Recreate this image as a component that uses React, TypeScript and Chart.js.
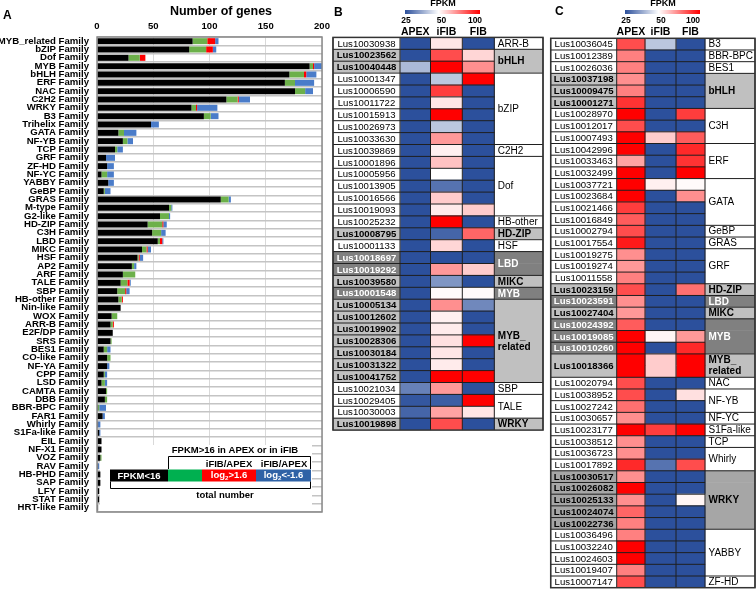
import React, { useEffect, useRef } from 'react';
import { Chart, registerables } from 'chart.js';
Chart.register(...registerables);

const FONT = '"Liberation Sans", Arial, Helvetica, sans-serif';

// ---------------- Panel A data ----------------
const FAMILIES = ['MYB_related','bZIP','Dof','MYB','bHLH','ERF','NAC','C2H2','WRKY','B3','Trihelix','GATA','NF-YB','TCP','GRF','ZF-HD','NF-YC','YABBY','GeBP','GRAS','M-type','G2-like','HD-ZIP','C3H','LBD','MIKC','HSF','AP2','ARF','TALE','SBP','HB-other','Nin-like','WOX','ARR-B','E2F/DP','SRS','BES1','CO-like','NF-YA','CPP','LSD','CAMTA','DBB','BBR-BPC','FAR1','Whirly','S1Fa-like','EIL','NF-X1','VOZ','RAV','HB-PHD','SAP','LFY','STAT','HRT-like'];
const LOW  = [85,82,28,189,171,167,176,115,84,95,48,19,23,16,8,9,4,10,6,110,64,56,45,49,54,40,36,31,23,21,18,19,21,13,12,14,12,6,9,9,6,4,8,7,1,5,1,2,4,4,3,1,3,3,2,2,1];
const MID  = [13,15,10,3,13,9,9,10,4,6,0,5,4,2,0,0,5,0,1,7,2,8,13,8,2,4,1,2,11,6,7,3,0,5,2,0,1,3,3,0,1,3,1,2,1,0,0,0,0,0,1,0,0,0,0,0,0];
const UP   = [7,6,5,1,2,0,0,1,1,0,0,0,0,0,0,0,0,0,0,0,0,0,1,0,2,1,1,0,0,2,1,1,0,0,1,0,0,0,0,0,0,0,0,0,0,0,0,0,0,0,0,0,0,0,0,0,0];
const DOWN = [3,3,0,7,9,17,7,10,18,7,7,11,5,5,8,6,6,5,5,2,1,1,3,4,1,3,3,2,0,1,3,0,0,0,0,0,0,3,0,2,2,2,0,0,6,2,2,1,0,0,0,1,0,0,0,0,0];
const X_MAX = 200;
const X_STEP = 50;

// ---------------- Panel B data ----------------
const B_GENES = ['Lus10030938','Lus10023562','Lus10040448','Lus10001347','Lus10006590','Lus10011722','Lus10015913','Lus10026973','Lus10033630','Lus10039869','Lus10001896','Lus10005956','Lus10013905','Lus10016566','Lus10019093','Lus10025232','Lus10008795','Lus10001133','Lus10018697','Lus10019292','Lus10039580','Lus10001548','Lus10005134','Lus10012602','Lus10019902','Lus10028306','Lus10030184','Lus10031322','Lus10041752','Lus10021034','Lus10029405','Lus10030003','Lus10019898'];
const B_STYLE = ['w','l','l','w','w','w','w','w','w','w','w','w','w','w','w','w','l','w','d','d','l','d','l','l','l','l','l','l','l','w','w','w','l'];
const B_APEX = [25,25,40,25,25,25,25,25,25,25,25,25,25,25,25,25,25,25,25,25,25,25,25,25,25,25,25,25,25,32,26,28,25];
const B_IFIB = [55,85,100,42,88,55,100,42,70,53,62,50,30,60,54,100,28,58,25,70,35,51,72,53,54,56,55,54,100,70,27,68,85];
const B_FIB  = [25,58,72,100,25,25,25,25,25,25,25,25,25,25,60,25,80,25,25,60,25,51,33,25,25,100,25,25,100,25,100,55,25];
const B_FAMILIES = ['ARR-B','bHLH','bZIP','C2H2','Dof','HB-other','HD-ZIP','HSF','LBD','MIKC','MYB','MYB_\nrelated','SBP','TALE','WRKY'];
const B_FAMILY_SIZE = [1,2,6,1,5,1,1,1,2,1,1,7,1,2,1];
const B_FAMILY_STYLE = ['w','l','w','w','w','w','l','w','d','l','d','l','w','w','l'];

// ---------------- Panel C data ----------------
const C_GENES = ['Lus10036045','Lus10012389','Lus10026036','Lus10037198','Lus10009475','Lus10001271','Lus10028970','Lus10012017','Lus10007493','Lus10042996','Lus10033463','Lus10032499','Lus10037721','Lus10023684','Lus10021466','Lus10016849','Lus10002794','Lus10017554','Lus10019275','Lus10019274','Lus10011558','Lus10023159','Lus10023591','Lus10027404','Lus10024392','Lus10019085','Lus10010260','Lus10018366','Lus10020794','Lus10038952','Lus10027242','Lus10030657','Lus10023177','Lus10038512','Lus10036723','Lus10017892','Lus10030517','Lus10026082','Lus10025133','Lus10024074','Lus10022736','Lus10036496','Lus10032240','Lus10024603','Lus10019407','Lus10007147'];
const C_STYLE = ['w','w','w','l','l','l','w','w','w','w','w','w','w','w','w','w','w','w','w','w','w','l','d','l','d','d','d','l','w','w','w','w','w','w','w','w','m','m','m','m','m','w','w','w','w','w'];
const C_APEX = [85,75,75,72,75,90,100,85,100,100,68,100,100,100,88,82,85,95,72,70,75,85,72,70,82,100,100,100,85,85,78,72,100,72,72,92,72,100,72,80,75,75,100,100,75,85];
const C_IFIB = [42,25,25,25,25,25,25,25,60,25,25,25,53,25,25,25,25,25,25,25,25,25,25,25,25,52,25,60,25,25,25,25,88,25,25,30,25,25,25,25,25,25,25,25,25,25];
const C_FIB  = [25,25,25,25,25,25,88,25,82,92,90,100,51,72,25,25,25,25,25,25,25,78,25,25,25,70,92,100,25,56,25,25,100,25,25,85,25,25,52,25,25,25,25,25,25,25];
const C_DOUBLE = ['Lus10018366'];
const C_FAMILIES = ['B3','BBR-BPC','BES1','bHLH','C3H','ERF','GATA','GeBP','GRAS','GRF','HD-ZIP','LBD','MIKC','MYB','MYB_\nrelated','NAC','NF-YB','NF-YC','S1Fa-like','TCP','Whirly','WRKY','YABBY','ZF-HD'];
const C_FAMILY_SIZE = [1,1,1,3,3,3,4,1,1,3,1,1,1,3,1,1,2,1,1,1,2,5,4,1];
const C_FAMILY_STYLE = ['w','w','w','l','w','w','w','w','w','w','l','d','l','d','l','w','w','w','w','w','w','m','w','w'];

const SCALE_LABELS = ['25', '50', '100'];
const SCALE_VALUES = [25, 50, 100];
const COLUMNS = ['APEX', 'iFIB', 'FIB'];

// ---------------- helpers ----------------
const BLUE = [44, 80, 156];
const WHITE = [255, 255, 255];
const RED = [255, 0, 0];
const mix = (a: number[], b: number[], t: number) => `rgb(${a.map((v, i) => Math.round(v + (b[i] - v) * t)).join(',')})`;
function heat(v: number) {
  if (v <= SCALE_VALUES[0]) return mix(BLUE, BLUE, 0);
  if (v <= SCALE_VALUES[1]) return mix(BLUE, WHITE, (v - SCALE_VALUES[0]) / (SCALE_VALUES[1] - SCALE_VALUES[0]));
  if (v < SCALE_VALUES[2]) return mix(WHITE, RED, (v - SCALE_VALUES[1]) / (SCALE_VALUES[2] - SCALE_VALUES[1]));
  return mix(RED, RED, 0);
}
const CELL_BG: Record<string, string> = { w: '#ffffff', l: '#c0c0c0', m: '#a6a6a6', d: '#808080' };
const CELL_FG: Record<string, string> = { w: '#000000', l: '#000000', m: '#000000', d: '#ffffff' };

function drawLog(ctx: CanvasRenderingContext2D, cx: number, cy: number, suffix: string, size: number) {
  const big = `bold ${size}px ${FONT}`;
  const small = `bold ${size * 0.65}px ${FONT}`;
  ctx.font = big; const w1 = ctx.measureText('log').width; const w3 = ctx.measureText(suffix).width;
  ctx.font = small; const w2 = ctx.measureText('2').width;
  let x = cx - (w1 + w2 + w3) / 2;
  ctx.textAlign = 'left';
  ctx.font = big; ctx.fillText('log', x, cy); x += w1;
  ctx.font = small; ctx.fillText('2', x, cy + 3); x += w2;
  ctx.font = big; ctx.fillText(suffix, x, cy);
}

// ---------------- Panel A ----------------
function PanelA() {
  const ref = useRef<HTMLCanvasElement>(null);
  useEffect(() => {
    const decor = {
      id: 'aDecor',
      beforeDatasetsDraw(chart: any) {
        const ctx = chart.ctx;
        ctx.save(); ctx.fillStyle = '#ffffff'; ctx.fillRect(100, 445, 212, 66); ctx.restore();
      },
      afterDraw(chart: any) {
        const ctx: CanvasRenderingContext2D = chart.ctx; const ca = chart.chartArea;
        ctx.save();
        ctx.strokeStyle = '#8a8a8a'; ctx.lineWidth = 1.5;
        ctx.strokeRect(ca.left, ca.top, ca.right - ca.left, ca.bottom - ca.top);
        ctx.fillStyle = '#000'; ctx.textBaseline = 'alphabetic'; ctx.textAlign = 'left';
        ctx.font = `bold 12px ${FONT}`; ctx.fillText('A', 3, 19);
        ctx.font = `bold 12.5px ${FONT}`;
        ctx.textAlign = 'center'; ctx.fillText('Number of genes', 221, 15);
        // legend
        ctx.textBaseline = 'middle'; ctx.font = `bold 9.5px ${FONT}`;
        ctx.fillText('FPKM>16 in APEX or in iFIB', 235, 450);
        ctx.strokeStyle = '#000'; ctx.lineWidth = 1;
        ctx.beginPath(); ctx.moveTo(168.5, 469); ctx.lineTo(168.5, 456.5); ctx.lineTo(310.5, 456.5); ctx.lineTo(310.5, 469); ctx.stroke();
        ctx.fillText('iFIB/APEX', 229, 464); ctx.fillText('iFIB/APEX', 284, 464);
        const boxes: [number, number, string][] = [[110, 168, '#000000'], [168, 202, '#00b050'], [202, 256, '#ff0000'], [256, 311, '#2f62a6']];
        boxes.forEach(([a, b, c]) => { ctx.fillStyle = c; ctx.fillRect(a, 469.5, b - a, 12); });
        ctx.fillStyle = '#fff';
        ctx.fillText('FPKM<16', 139, 476);
        drawLog(ctx, 229, 475.5, '>1.6', 9.5);
        drawLog(ctx, 283.5, 475.5, '<-1.6', 9.5);
        ctx.strokeStyle = '#000';
        ctx.beginPath(); ctx.moveTo(110.5, 481.5); ctx.lineTo(110.5, 488.5); ctx.lineTo(310.5, 488.5); ctx.lineTo(310.5, 481.5); ctx.stroke();
        ctx.fillStyle = '#000'; ctx.textAlign = 'center'; ctx.font = `bold 9.5px ${FONT}`;
        ctx.fillText('total number', 225, 495);
        ctx.restore();
      },
    };
    const chart = new Chart(ref.current!, {
      type: 'bar',
      data: {
        labels: FAMILIES.map((f) => `${f} Family`),
        datasets: [
          { label: 'FPKM<16', data: LOW, backgroundColor: '#000000' },
          { label: 'iFIB/APEX', data: MID, backgroundColor: '#6cb04a' },
          { label: 'log2>1.6', data: UP, backgroundColor: '#ff0000' },
          { label: 'log2<-1.6', data: DOWN, backgroundColor: '#4a7cc9' },
        ],
      },
      options: {
        indexAxis: 'y', animation: false, responsive: false,
        layout: { padding: { top: 0, right: 8, bottom: 8, left: 0 } },
        datasets: { bar: { categoryPercentage: 0.9, barPercentage: 0.8, borderWidth: 0 } } as any,
        scales: {
          x: {
            position: 'top', stacked: true, min: 0, max: X_MAX,
            ticks: { stepSize: X_STEP, color: '#000', padding: 5, font: { family: FONT, size: 9.5, weight: 'bold' } },
            grid: { color: '#d9d9d9', lineWidth: 1, drawTicks: false },
            border: { display: false },
            afterFit: (s: any) => { s.height = 37; s.paddingLeft = 0; s.paddingRight = 0; },
          },
          y: {
            stacked: true,
            ticks: { autoSkip: false, color: '#000', padding: 8, font: { family: FONT, size: 9.6, weight: 'bold' } },
            grid: { color: '#c4c4c4', lineWidth: 1.5, drawTicks: false, offset: true },
            border: { display: false },
            afterFit: (s: any) => { s.width = 97; s.paddingTop = 0; s.paddingBottom = 0; },
          },
        },
        plugins: { legend: { display: false }, tooltip: { enabled: false } },
      } as any,
      plugins: [decor],
    });
    return () => chart.destroy();
  }, []);
  return <canvas ref={ref} width={330} height={520} style={{ position: 'absolute', left: 0, top: 0, width: 330, height: 520 }} />;
}

// ---------------- Panels B / C (heat tables) ----------------
type TableCfg = {
  left: number; width: number; height: number;
  pad: { left: number; top: number; right: number; bottom: number };
  letter: string; letterX: number; letterY: number;
  grad: [number, number]; gradLabelX: number[]; fpkmX: number;
  genes: string[]; styles: string[]; apex: number[]; ifib: number[]; fib: number[];
  families: string[]; famSizes: number[]; famStyles: string[];
  colW: number[]; doubles: string[];
};

function HeatTable({ cfg }: { cfg: TableCfg }) {
  const ref = useRef<HTMLCanvasElement>(null);
  useEffect(() => {
    const geneFam: number[] = [];
    cfg.famSizes.forEach((n, fi) => { for (let k = 0; k < n; k++) geneFam.push(fi); });
    const slotGene: number[] = [];
    cfg.genes.forEach((g, gi) => { slotGene.push(gi); if (cfg.doubles.includes(g)) slotGene.push(gi); });
    const slotFam = slotGene.map((gi) => geneFam[gi]);
    const N = slotGene.length;
    const total = cfg.colW.reduce((a, b) => a + b, 0);
    const mk = (w: number, colors: string[], label: string) => ({
      label, data: slotGene.map(() => w), backgroundColor: colors,
      borderWidth: 0, categoryPercentage: 1, barPercentage: 1,
    });
    const datasets = [
      mk(cfg.colW[0], slotGene.map((gi) => CELL_BG[cfg.styles[gi]]), 'gene'),
      mk(cfg.colW[1], slotGene.map((gi) => heat(cfg.apex[gi])), COLUMNS[0]),
      mk(cfg.colW[2], slotGene.map((gi) => heat(cfg.ifib[gi])), COLUMNS[1]),
      mk(cfg.colW[3], slotGene.map((gi) => heat(cfg.fib[gi])), COLUMNS[2]),
      mk(cfg.colW[4], slotFam.map((fi) => CELL_BG[cfg.famStyles[fi]]), 'family'),
    ];
    const off = cfg.left;
    const plug = {
      id: 'tableDecor',
      afterDatasetsDraw(chart: any) {
        const ctx: CanvasRenderingContext2D = chart.ctx; const ca = chart.chartArea; const x = chart.scales.x;
        const h = (ca.bottom - ca.top) / N;
        const bx: number[] = [x.getPixelForValue(0)];
        let acc = 0; cfg.colW.forEach((w) => { acc += w; bx.push(x.getPixelForValue(acc)); });
        ctx.save();
        ctx.strokeStyle = '#1f1f1f'; ctx.lineWidth = 1;
        ctx.beginPath();
        for (let k = 1; k < N; k++) {
          const yk = ca.top + k * h;
          if (slotGene[k] !== slotGene[k - 1]) { ctx.moveTo(bx[0], yk); ctx.lineTo(bx[4], yk); }
          if (slotFam[k] !== slotFam[k - 1]) { ctx.moveTo(bx[4], yk); ctx.lineTo(bx[5], yk); }
        }
        bx.forEach((b) => { ctx.moveTo(b, ca.top); ctx.lineTo(b, ca.bottom); });
        ctx.stroke();
        ctx.lineWidth = 1.5; ctx.strokeStyle = '#333';
        ctx.strokeRect(ca.left, ca.top, ca.right - ca.left, ca.bottom - ca.top);
        // gene names
        ctx.textBaseline = 'middle'; ctx.textAlign = 'center';
        cfg.genes.forEach((g, gi) => {
          const first = slotGene.indexOf(gi); const span = slotGene.filter((s) => s === gi).length;
          const st = cfg.styles[gi];
          ctx.fillStyle = CELL_FG[st];
          ctx.font = `${st === 'w' ? '' : 'bold '}9.6px ${FONT}`;
          ctx.fillText(g, (bx[0] + bx[1]) / 2, ca.top + (first + span / 2) * h + 0.5);
        });
        // families
        ctx.textAlign = 'left';
        cfg.families.forEach((f, fi) => {
          const first = slotFam.indexOf(fi); const span = slotFam.filter((s) => s === fi).length;
          const st = cfg.famStyles[fi];
          ctx.fillStyle = CELL_FG[st];
          ctx.font = `${st === 'w' ? '' : 'bold '}10px ${FONT}`;
          const lines = f.split('\n'); const lh = 11;
          const cy = ca.top + (first + span / 2) * h;
          lines.forEach((ln, li) => ctx.fillText(ln, bx[4] + 3.5, cy + (li - (lines.length - 1) / 2) * lh + 0.5));
        });
        ctx.restore();
      },
      afterDraw(chart: any) {
        const ctx: CanvasRenderingContext2D = chart.ctx; const x = chart.scales.x;
        ctx.save();
        ctx.fillStyle = '#000'; ctx.textBaseline = 'alphabetic'; ctx.textAlign = 'left';
        ctx.font = `bold 12px ${FONT}`; ctx.fillText(cfg.letter, cfg.letterX - off, cfg.letterY);
        // colour bar
        const g0 = cfg.grad[0] - off, g1 = cfg.grad[1] - off;
        const grd = ctx.createLinearGradient(g0, 0, g1, 0);
        grd.addColorStop(0, heat(SCALE_VALUES[0])); grd.addColorStop(0.45, heat(SCALE_VALUES[1])); grd.addColorStop(1, heat(SCALE_VALUES[2]));
        ctx.fillStyle = grd; ctx.fillRect(g0, 10, g1 - g0, 4);
        ctx.fillStyle = '#000'; ctx.textAlign = 'center'; ctx.textBaseline = 'middle';
        ctx.font = `bold 9px ${FONT}`; ctx.fillText('FPKM', cfg.fpkmX - off, 4);
        ctx.font = `bold 8.5px ${FONT}`;
        SCALE_LABELS.forEach((s, i) => ctx.fillText(s, cfg.gradLabelX[i] - off, 21));
        ctx.font = `bold 10.5px ${FONT}`;
        let acc = cfg.colW[0];
        COLUMNS.forEach((c, i) => {
          const a = x.getPixelForValue(acc); acc += cfg.colW[i + 1]; const b = x.getPixelForValue(acc);
          ctx.fillText(c, (a + b) / 2, 32.5);
        });
        ctx.restore();
      },
    };
    const chart = new Chart(ref.current!, {
      type: 'bar',
      data: { labels: slotGene.map((_, i) => String(i)), datasets },
      options: {
        indexAxis: 'y', animation: false, responsive: false,
        layout: { padding: cfg.pad },
        scales: {
          x: { type: 'linear', stacked: true, min: 0, max: total, display: false },
          y: { type: 'category', stacked: true, display: false },
        },
        plugins: { legend: { display: false }, tooltip: { enabled: false } },
      } as any,
      plugins: [plug],
    });
    return () => chart.destroy();
  }, [cfg]);
  return <canvas ref={ref} width={cfg.width} height={cfg.height} style={{ position: 'absolute', left: cfg.left, top: 0, width: cfg.width, height: cfg.height }} />;
}

const B_CFG: TableCfg = {
  left: 325, width: 220, height: 434,
  pad: { left: 8, top: 37.4, right: 2, bottom: 3.9 },
  letter: 'B', letterX: 334, letterY: 16,
  grad: [405, 480], gradLabelX: [406, 441.5, 475], fpkmX: 443,
  genes: B_GENES, styles: B_STYLE, apex: B_APEX, ifib: B_IFIB, fib: B_FIB,
  families: B_FAMILIES, famSizes: B_FAMILY_SIZE, famStyles: B_FAMILY_STYLE,
  colW: [67, 30.5, 31.8, 32, 48.7], doubles: [],
};
const C_CFG: TableCfg = {
  left: 545, width: 211, height: 589,
  pad: { left: 5.7, top: 38.3, right: 1, bottom: 1.3 },
  letter: 'C', letterX: 555, letterY: 15,
  grad: [625, 700], gradLabelX: [626, 661, 693], fpkmX: 663,
  genes: C_GENES, styles: C_STYLE, apex: C_APEX, ifib: C_IFIB, fib: C_FIB,
  families: C_FAMILIES, famSizes: C_FAMILY_SIZE, famStyles: C_FAMILY_STYLE,
  colW: [66, 28.3, 31, 29, 50], doubles: C_DOUBLE,
};

export default function App() {
  return (
    <div style={{ position: 'fixed', left: 0, top: 0, width: 756, height: 589, background: '#fff', overflow: 'hidden' }}>
      <PanelA />
      <HeatTable cfg={B_CFG} />
      <HeatTable cfg={C_CFG} />
    </div>
  );
}
